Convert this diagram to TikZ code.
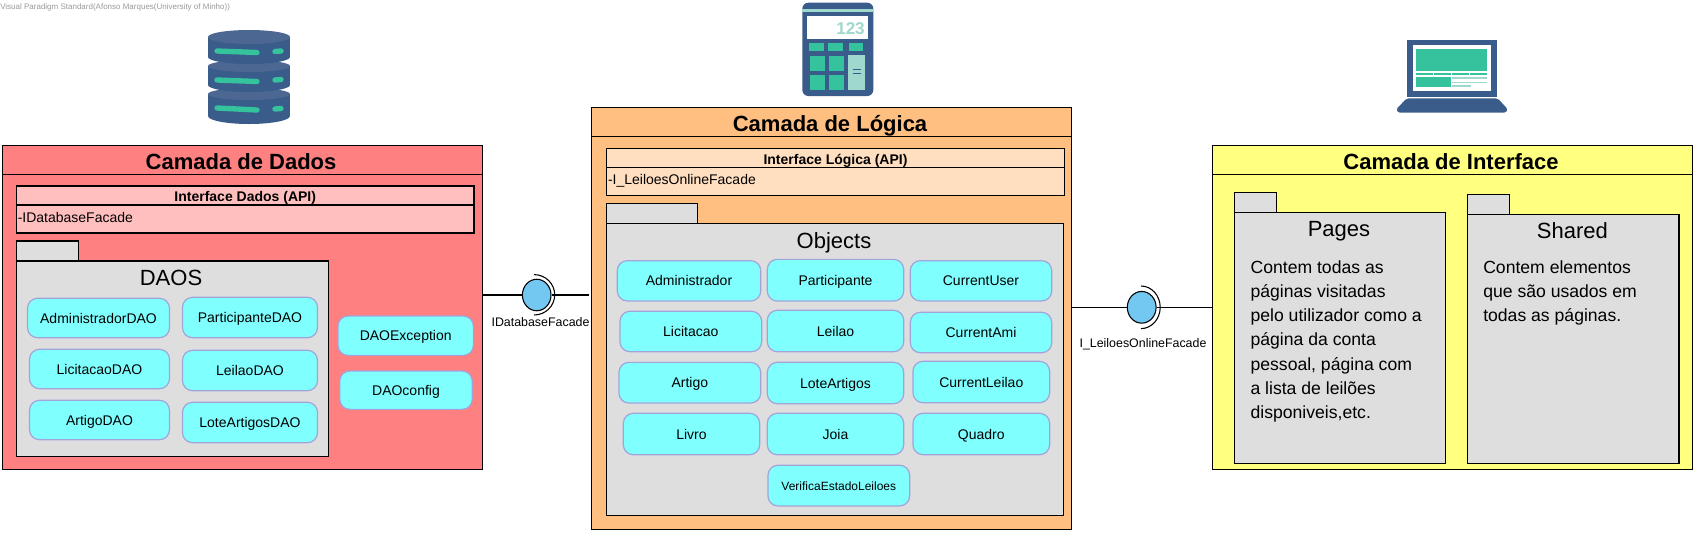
\documentclass[tikz,border=0pt]{standalone}
\usepackage{fontspec}
\setmainfont[Ligatures=NoCommon]{Liberation Sans}
\usetikzlibrary{shapes.geometric}

\definecolor{dadosred}{HTML}{FF8080}
\definecolor{dadospink}{HTML}{FFBFBF}
\definecolor{logicorange}{HTML}{FFBF80}
\definecolor{logicpeach}{HTML}{FFDFBF}
\definecolor{ifaceyellow}{HTML}{FFFF80}
\definecolor{pkggray}{HTML}{DEDEDE}
\definecolor{clscyan}{HTML}{80FFFF}
\definecolor{clsborder}{HTML}{A3A3DC}
\definecolor{lollifill}{HTML}{73C8F2}
\definecolor{icondark}{HTML}{3A5C8A}
\definecolor{icontop}{HTML}{4C6892}
\definecolor{icongreen}{HTML}{35C39E}
\definecolor{iconteal}{HTML}{9FD8CC}

\tikzset{
  sz/.style 2 args={minimum width=#1*0.75pt, minimum height=#2*0.75pt, inner sep=0pt},
  layerbox/.style={draw, line width=0.8pt},
  layertitle/.style={draw, line width=0.8pt, font=\fontsize{16.5}{18}\bfseries, text height=14pt, text depth=0pt, execute at end node=\kern2.5pt},
  apihead/.style={draw, line width=0.8pt, font=\fontsize{10.5}{12}\bfseries, text height=9.3pt, text depth=0pt},
  apibody/.style={draw, line width=0.8pt, font=\fontsize{10.5}{12}\selectfont, text height=4.5pt, text depth=0pt},
  pkg/.style={draw, line width=0.8pt, fill=pkggray},
  pkgname/.style={font=\fontsize{16.5}{18}\selectfont, inner sep=0pt, text height=12pt, text depth=0pt},
  cls/.style={draw=clsborder, line width=0.9pt, fill=clscyan, rounded corners=7.5pt,
    font=\fontsize{10.5}{12}\selectfont, text height=7.5pt, text depth=0pt},
  lolli/.style={draw, ellipse, line width=0.8pt, fill=lollifill, inner sep=0pt},
  lollilabel/.style={font=\fontsize{9.3}{11}\selectfont, inner sep=0pt},
  note/.style={font=\fontsize{13.2}{18.1}\selectfont, align=left, inner sep=0pt, anchor=north west}
}

\begin{document}
\begin{tikzpicture}[x=0.75pt, y=-0.75pt]
    \useasboundingbox (0,0) rectangle (1696,533);

    \node[anchor=west, inner sep=0pt, text=gray!80, font=\fontsize{6}{8}\selectfont] (watermark) at (0,7)
        {Visual Paradigm Standard(Afonso Marques(University of Minho))};

    % Database icon
    \fill[icondark] (208,94) rectangle (290,116);
    \fill[icondark] (249,116) ellipse [x radius=41, y radius=8];
    \fill[icontop] (249,94) ellipse [x radius=41, y radius=6];
    \fill[icondark] (208,66) rectangle (290,85);
    \fill[icondark] (249,85) ellipse [x radius=41, y radius=7];
    \fill[icontop] (249,66) ellipse [x radius=41, y radius=6];
    \fill[icondark] (208,37) rectangle (290,57);
    \fill[icondark] (249,57) ellipse [x radius=41, y radius=7];
    \fill[icontop] (249,37) ellipse [x radius=41, y radius=7];
    \draw[icongreen, line width=4pt, line cap=round] (217,51) -- (257,52.5);
    \draw[icongreen, line width=4pt, line cap=round] (275,51.5) -- (281,51);
    \draw[icongreen, line width=4pt, line cap=round] (217,80) -- (257,81.5);
    \draw[icongreen, line width=4pt, line cap=round] (275,80) -- (281,79.5);
    \draw[icongreen, line width=4pt, line cap=round] (217,108) -- (257,110);
    \draw[icongreen, line width=4pt, line cap=round] (275,109) -- (281,108.5);

    % Calculator icon
    \fill[icondark, rounded corners=4.5pt] (802.3,2.7) rectangle (873.3,96);
    \fill[iconteal] (802.3,9) rectangle (873.3,12.3);
    \fill[white] (807.3,16) rectangle (868.3,39);
    \node[anchor=east, inner sep=0pt, text=iconteal, font=\fontsize{12.8}{14}\bfseries] (screen) at (865,29) {123};
    \fill[icongreen] (809.3,43.3) rectangle (824,51);
    \fill[icongreen] (828.3,43.3) rectangle (843,51);
    \fill[icongreen] (848.7,43.3) rectangle (863,51);
    \fill[icongreen] (810.3,56) rectangle (825,71.3);
    \fill[icongreen] (829.3,56) rectangle (844,71.3);
    \fill[icongreen] (810.3,75) rectangle (825,90);
    \fill[icongreen] (829.3,75) rectangle (844,90);
    \fill[iconteal] (848,55) rectangle (865.3,90);
    \draw[icondark, line width=0.8pt] (852.7,69.5) -- (861.3,69.5);
    \draw[icondark, line width=0.8pt] (852.7,73.5) -- (861.3,73.5);

    % Laptop icon
    \fill[icondark] (1407.3,40) rectangle (1497,96.7);
    \fill[white] (1413,45) rectangle (1491.3,91.3);
    \fill[icongreen] (1416,49) rectangle (1487.3,70.7);
    \fill[icongreen] (1416,72.7) rectangle (1433.3,74.7);
    \fill[icongreen] (1434.3,72.7) rectangle (1451.3,74.7);
    \fill[icongreen] (1452,72.7) rectangle (1469.3,74.7);
    \fill[icongreen] (1470,72.7) rectangle (1487.3,74.7);
    \fill[icongreen] (1416,77) rectangle (1451,87.3);
    \fill[iconteal] (1452,77) rectangle (1487.3,79);
    \fill[iconteal] (1452,81.5) rectangle (1487.3,83.3);
    \fill[iconteal] (1452,85.3) rectangle (1470.7,87);
    \fill[icondark, rounded corners=1.5pt] (1406.7,98.3) -- (1497.7,98.3) -- (1508,109.5) -- (1506,112.7) -- (1398,112.7) -- (1396,109.5) -- cycle;

    % Camada de Dados
    \node[layerbox, fill=dadosred, sz={480}{324}] (dadosBox) at (242.7,307.3) {};
    \node[layertitle, sz={480}{29}] (dadosTitle) at (242.7,159.8) {Camada de Dados};
    \node[apihead, fill=dadospink, sz={457.5}{19}] (dadosHead) at (245.25,195.5) {Interface Dados (API)};
    \node[apibody, fill=dadospink, sz={457.5}{28}, text width=455*0.75pt, align=left] (dadosApi) at (245.25,219) {-IDatabaseFacade};
    \node[pkg, sz={62}{20}] (daosTab) at (47.5,251) {};
    \node[pkg, sz={312.2}{195.3}] (daosPkg) at (172.6,358.65) {};
    \node[pkgname] (daosName) at (171,277) {DAOS};
    \node[cls, sz={142}{39.4}] (administradorDao) at (98.5,318) {AdministradorDAO};
    \node[cls, sz={135}{40.4}] (participanteDao) at (250,317.5) {ParticipanteDAO};
    \node[cls, sz={140}{39.4}] (licitacaoDao) at (99.5,369) {LicitacaoDAO};
    \node[cls, sz={135}{40.4}] (leilaoDao) at (250,370.5) {LeilaoDAO};
    \node[cls, sz={140}{39.4}] (artigoDao) at (99.5,420) {ArtigoDAO};
    \node[cls, sz={135}{40.4}] (loteDao) at (250,422.5) {LoteArtigosDAO};
    \node[cls, sz={135.4}{39.3}] (daoException) at (405.7,335.7) {DAOException};
    \node[cls, sz={132.5}{38.3}] (daoConfig) at (406,390.2) {DAOconfig};

    % Camada de Logica
    \node[layerbox, fill=logicorange, sz={480}{422}] (logicaBox) at (831.7,318.3) {};
    \node[layertitle, sz={480}{29}] (logicaTitle) at (831.7,121.8) {Camada de Lógica};
    \node[apihead, fill=logicpeach, sz={457.6}{18.6}] (logicaHead) at (835.5,158) {Interface Lógica (API)};
    \node[apibody, fill=logicpeach, sz={457.6}{28}, text width=455*0.75pt, align=left] (logicaApi) at (835.5,181.3) {-I\_LeiloesOnlineFacade};
    \node[pkg, sz={90.6}{20}] (objectsTab) at (652,213.3) {};
    \node[pkg, sz={456.6}{292.4}] (objectsPkg) at (835,369.5) {};
    \node[pkgname] (objectsName) at (834,240) {Objects};
    \node[cls, sz={143.4}{40.3}] (administrador) at (689,280.8) {Administrador};
    \node[cls, sz={136.4}{41.7}] (participante) at (835.5,280.2) {Participante};
    \node[cls, sz={141.4}{40.3}] (currentUser) at (981,280.8) {CurrentUser};
    \node[cls, sz={141.7}{40.4}] (licitacao) at (690.8,331.5) {Licitacao};
    \node[cls, sz={136.4}{41.4}] (leilao) at (835.5,331) {Leilao};
    \node[cls, sz={141.4}{40.4}] (currentAmi) at (981,332.5) {CurrentAmi};
    \node[cls, sz={141.7}{40.7}] (artigo) at (689.8,382.7) {Artigo};
    \node[cls, sz={136.4}{41.4}] (loteArtigos) at (835.5,383) {LoteArtigos};
    \node[cls, sz={136.7}{41.4}] (currentLeilao) at (981.3,382) {CurrentLeilao};
    \node[cls, sz={136.4}{41.4}] (livro) at (691.5,434) {Livro};
    \node[cls, sz={136.4}{41.4}] (joia) at (835.5,434) {Joia};
    \node[cls, sz={136.7}{41.4}] (quadro) at (981.3,434) {Quadro};
    \node[cls, sz={141.7}{40.7}, font=\fontsize{9}{11}\selectfont] (verifica) at (838.8,485.6) {VerificaEstadoLeiloes};

    % Camada de Interface
    \node[layerbox, fill=ifaceyellow, sz={480.4}{324}] (ifaceBox) at (1452.7,307.3) {};
    \node[layertitle, sz={480.4}{29}] (ifaceTitle) at (1452.7,159.8) {Camada de Interface};
    \node[pkg, sz={42.2}{20}] (pagesTab) at (1255.5,202.3) {};
    \node[pkg, sz={211.4}{251}] (pagesPkg) at (1340.1,337.8) {};
    \node[pkgname] (pagesName) at (1339,228.5) {Pages};
    \node[note] (pagesNote) at (1250.3,260.5) {Contem todas as\\páginas visitadas\\pelo utilizador como a\\página da conta\\pessoal, página com\\a lista de leilões\\disponiveis,etc.};
    \node[pkg, sz={42.2}{20}] (sharedTab) at (1488.4,204.3) {};
    \node[pkg, sz={211.7}{249}] (sharedPkg) at (1573.15,338.8) {};
    \node[pkgname] (sharedName) at (1572.4,230.7) {Shared};
    \node[note] (sharedNote) at (1483,260.5) {Contem elementos\\que são usados em\\todas as páginas.};

    % Provided interfaces between the layers
    \node[lolli, sz={28.6}{31.5}] (dbLolli) at (536.7,295) {};
    \node[lolli, sz={28.8}{31.7}] (onlineLolli) at (1141.7,307.3) {};
    \draw[line width=0.8pt] (dadosBox.east |- dbLolli) -- (dbLolli);
    \draw[line width=0.8pt, shorten >=1.5pt] (dbLolli) -- (logicaBox.west |- dbLolli);
    \draw[line width=0.8pt] (logicaBox.east |- onlineLolli) -- (onlineLolli);
    \draw[line width=0.8pt] (onlineLolli) -- (ifaceBox.west |- onlineLolli);
    \draw[line width=0.8pt] (534,274.6) arc [start angle=-90, end angle=90, x radius=20.7, y radius=20.2];
    \draw[line width=0.8pt] (1141,286) arc [start angle=-90, end angle=90, x radius=19.2, y radius=21.3];
    \node[lollilabel] (dbLabel) at (540.5,321.7) {IDatabaseFacade};
    \node[lollilabel] (onlineLabel) at (1143,344) {I\_LeiloesOnlineFacade};
\end{tikzpicture}
\end{document}
